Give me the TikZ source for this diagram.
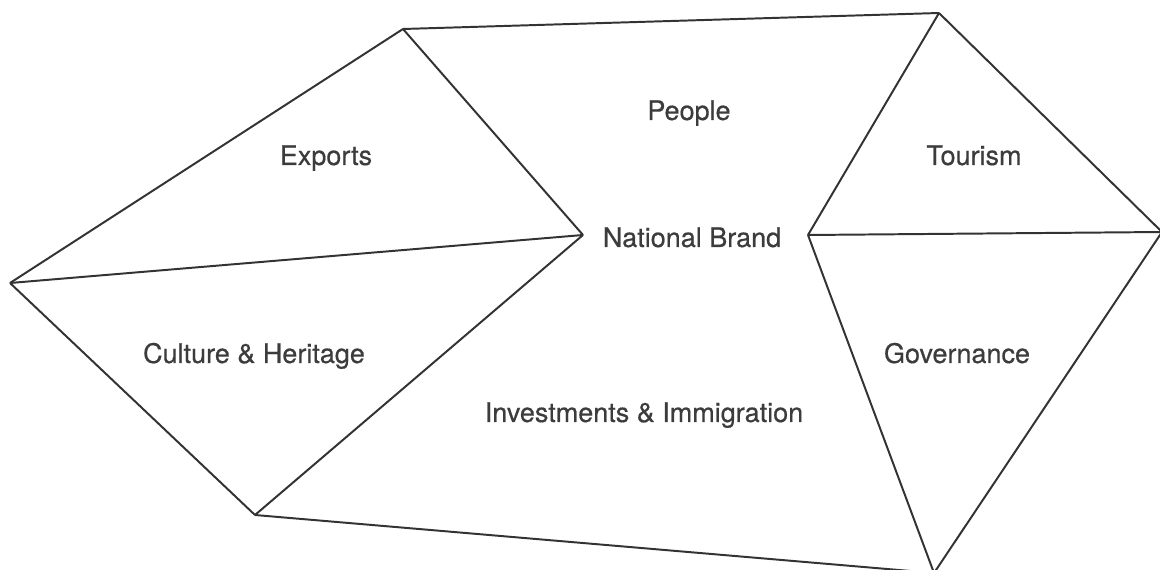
\documentclass[tikz,border=0pt]{standalone}
\usepackage{fontspec}
\setmainfont{TeX Gyre Heros}
\newfontfamily\labelfont[FakeBold=0.5]{TeX Gyre Heros}
\usepackage{tikz}
\usetikzlibrary{positioning}
\usepackage{xcolor}
\definecolor{edgegray}{HTML}{333333}
\definecolor{textgray}{HTML}{3C3C3C}

\begin{document}
\begin{tikzpicture}[
    x=0.025cm, y=-0.025cm,
    edge/.style={draw=edgegray, line width=1.4pt, line join=miter},
    area/.style={font=\fontsize{19.2}{23}\labelfont, text=textgray, inner sep=0pt, anchor=base},
]
\useasboundingbox (0,0) rectangle (1160,570);

% corner points of the net
\coordinate (topleft) at (403,29);
\coordinate (topright) at (939,13);
\coordinate (farright) at (1162,232);
\coordinate (bottomright) at (934,573);
\coordinate (bottomleft) at (255,515);
\coordinate (farleft) at (10,283);
\coordinate (brandleft) at (583,235);
\coordinate (brandright) at (808,235);

% area labels (placed on their baselines)
\node[area] (people) at (689,120) {People};
\node[area] (exports) at (326,165) {Exports};
\node[area] (tourism) at (974,165) {Tourism};
\node[area] (brand) at (692,247) {National Brand};
\node[area] (culture) at (254,363) {Culture \& Heritage};
\node[area] (governance) at (957,363) {Governance};
\node[area] (invest) at (644,422) {Investments \& Immigration};

% ===== EDGES =====
\draw[edge] (topleft) -- (topright);
\draw[edge] (topright) -- (farright);
\draw[edge] (topright) -- (brandright);
\draw[edge] (brandright) -- (farright);
\draw[edge] (brandright) -- (bottomright);
\draw[edge] (farright) -- (bottomright);
\draw[edge] (bottomleft) -- (bottomright);
\draw[edge] (topleft) -- (farleft);
\draw[edge] (topleft) -- (brandleft);
\draw[edge] (farleft) -- (brandleft);
\draw[edge] (farleft) -- (bottomleft);
\draw[edge] (bottomleft) -- (brandleft);

\end{tikzpicture}
\end{document}
